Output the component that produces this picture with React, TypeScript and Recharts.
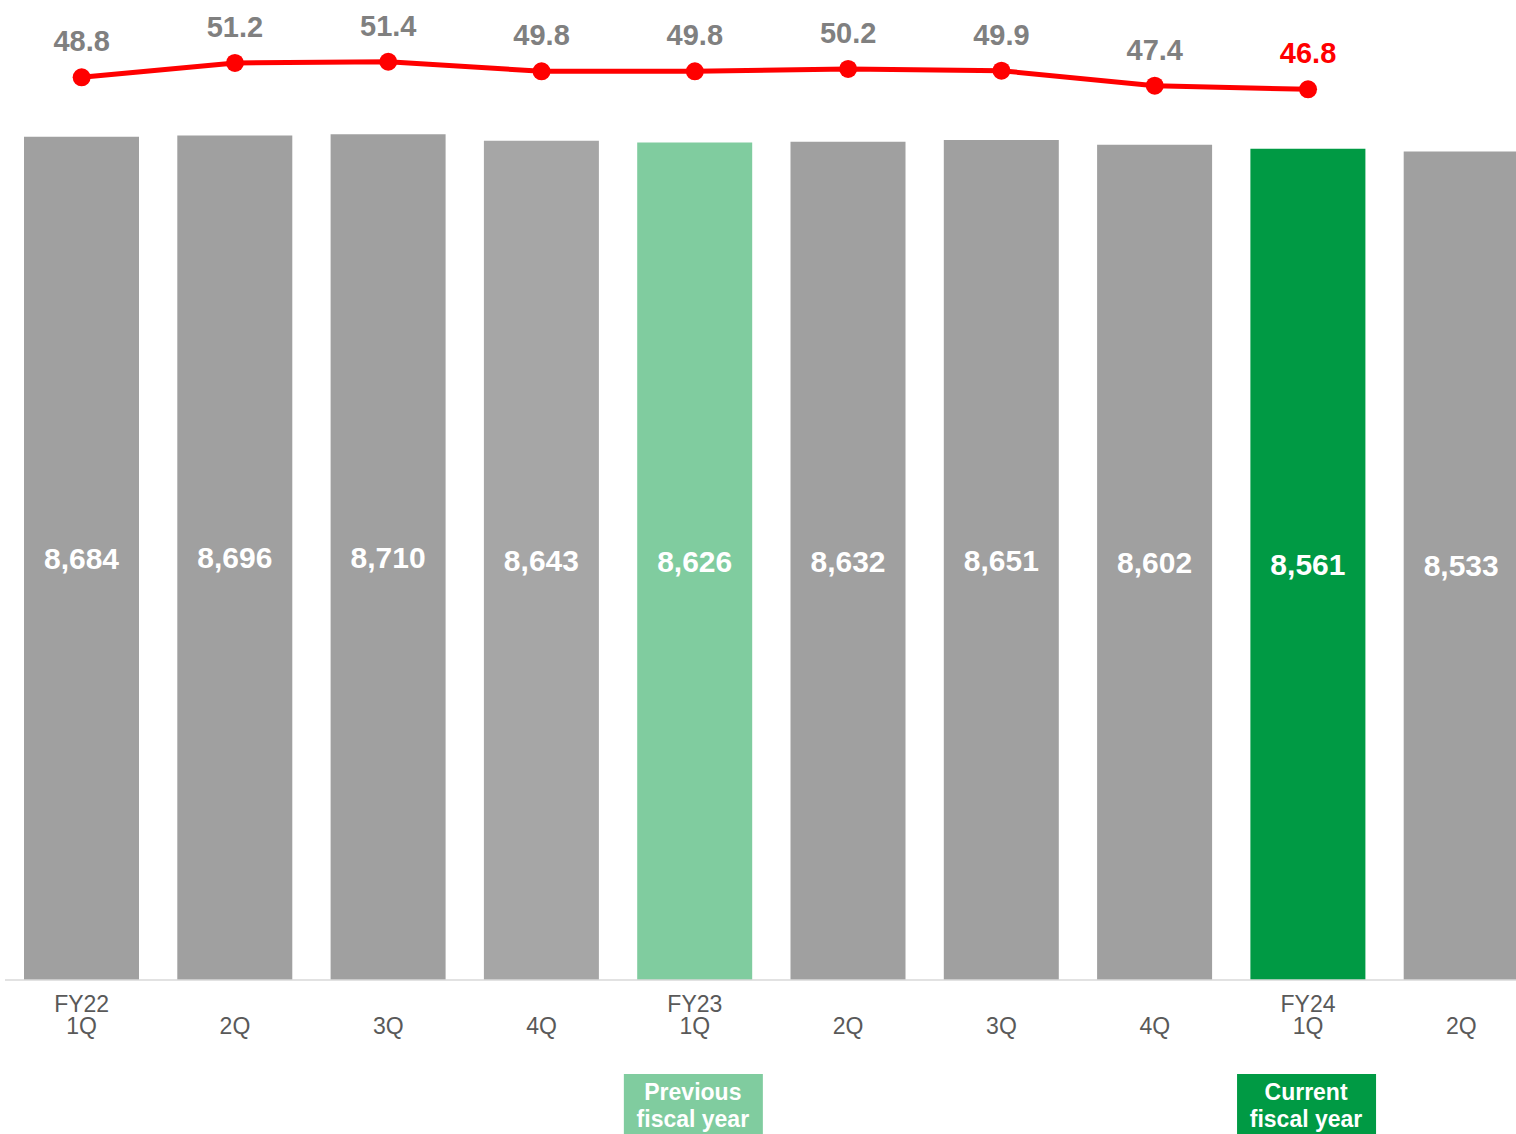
import { ComposedChart, Bar, Line, XAxis, YAxis, Cell, LabelList } from 'recharts'

const quarters = ['1Q', '2Q', '3Q', '4Q', '1Q', '2Q', '3Q', '4Q', '1Q', '2Q']
const fiscalYears = ['FY22', '', '', '', 'FY23', '', '', '', 'FY24', '']
const headcount = [8684, 8696, 8710, 8643, 8626, 8632, 8651, 8602, 8561, 8533]
const ratio: (number | null)[] = [48.8, 51.2, 51.4, 49.8, 49.8, 50.2, 49.9, 47.4, 46.8, null]
const barColors = ['#a0a0a0', '#a0a0a0', '#a0a0a0', '#a6a6a6', '#80cc9f', '#a0a0a0', '#a0a0a0', '#a0a0a0', '#009a44', '#a0a0a0']
const periodTags = ['', '', '', '', 'Previous|fiscal year', '', '', '', 'Current|fiscal year', '']
const tagColors = ['', '', '', '', '#80cc9f', '', '', '', '#009a44', '']

const data = quarters.map((q, i) => ({
  key: i,
  quarter: q,
  fy: fiscalYears[i],
  headcount: headcount[i],
  ratio: ratio[i],
}))

const lastRatio = ratio.reduce((acc: number, v, i) => (v != null ? i : acc), 0)
const FONT = '"Liberation Sans", Arial, sans-serif'

function QuarterTick(props: any) {
  const { x, y, payload } = props
  const i = payload.value as number
  const tag = periodTags[i]
  return (
    <g>
      {fiscalYears[i] && (
        <text x={x} y={y + 32} textAnchor="middle" fontSize={23} fill="#595959" fontFamily={FONT}>{fiscalYears[i]}</text>
      )}
      <text x={x} y={y + 54} textAnchor="middle" fontSize={23} fill="#595959" fontFamily={FONT}>{quarters[i]}</text>
      {tag && (
        <g>
          <rect x={x - 71} y={y + 94} width={139} height={70} fill={tagColors[i]} />
          {tag.split('|').map((line, k) => (
            <text key={k} x={x - 2} y={y + 120 + k * 27} textAnchor="middle" fontSize={23} fontWeight="bold" fill="#fff" fontFamily={FONT}>{line}</text>
          ))}
        </g>
      )}
    </g>
  )
}

function RatioLabel(props: any) {
  const { x, y, value, index } = props
  if (value == null) return null
  return (
    <text x={x} y={y - 26} textAnchor="middle" fontSize={29} fontWeight="bold" fontFamily={FONT}
      fill={index === lastRatio ? '#ff0000' : '#808080'}>
      {Number(value).toFixed(1)}
    </text>
  )
}

export default function App() {
  return (
    <div style={{ position: 'absolute', left: 0, top: 0, width: 1516, height: 1134, overflow: 'hidden', background: '#fff' }}>
      <ComposedChart width={1538} height={1134} data={data} margin={{ top: 9, right: 0, left: 5, bottom: 0 }}>
        <XAxis dataKey="key" height={154} tick={<QuarterTick />} tickLine={false} tickSize={0} tickMargin={0}
          axisLine={{ stroke: '#d9d9d9', strokeWidth: 1.5 }} interval={0} />
        <YAxis yAxisId="bars" hide domain={[0, 10000]} allowDataOverflow />
        <YAxis yAxisId="ratio" hide domain={[-101.8, 60.2]} allowDataOverflow />
        <Bar yAxisId="bars" dataKey="headcount" barSize={115} isAnimationActive={false}>
          {data.map((d, i) => <Cell key={d.key} fill={barColors[i]} />)}
          <LabelList dataKey="headcount" position="center" fill="#fff" fontSize={30} fontWeight="bold" fontFamily={FONT}
            formatter={(v: any) => Number(v).toLocaleString('en-US')} />
        </Bar>
        <Line yAxisId="ratio" dataKey="ratio" stroke="#ff0000" strokeWidth={5} isAnimationActive={false}
          dot={{ r: 9, fill: '#ff0000', stroke: 'none' }} activeDot={false} label={<RatioLabel />} />
      </ComposedChart>
    </div>
  )
}
